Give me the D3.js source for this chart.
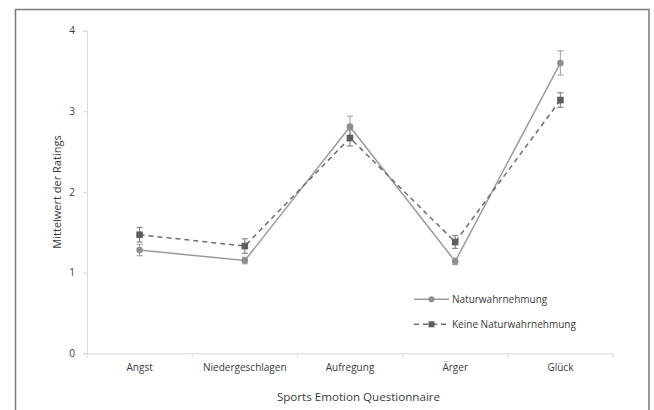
<!DOCTYPE html>
<html><head><meta charset="utf-8">
<script src="https://cdn.jsdelivr.net/npm/d3@7"></script>
<style>html,body{margin:0;padding:0;background:#fff;}svg{display:block;}</style>
</head><body>
<svg id="chart" width="654" height="410"></svg>
<script>
const categories = ["Angst", "Niedergeschlagen", "Aufregung", "Ärger", "Glück"];
const naturMean = [1.28, 1.15, 2.81, 1.14, 3.60];
const naturErr = [0.07, 0.04, 0.13, 0.04, 0.15];
const keineMean = [1.47, 1.33, 2.67, 1.38, 3.14];
const keineErr = [0.09, 0.09, 0.10, 0.08, 0.09];
const yTicks = [0, 1, 2, 3, 4];
const seriesNames = ["Naturwahrnehmung", "Keine Naturwahrnehmung"];

const svg = d3.select("#chart");
const font = "'Open Sans', sans-serif";
const textCol = "#3a3a3a";

// frame
svg.append("rect").attr("x", 15.5).attr("y", 9.5).attr("width", 633.5).attr("height", 420)
  .attr("fill", "none").attr("stroke", "#7a7a7a").attr("stroke-width", 1.5);

const x = d3.scaleBand().domain(categories).range([87, 613]).paddingInner(0).paddingOuter(0);
const y = d3.scaleLinear().domain([0, 4]).range([353.3, 30.7]);

// y axis
const yAxis = svg.append("g").attr("transform", "translate(87,0)")
  .call(d3.axisLeft(y).tickValues(yTicks).tickSize(4).tickPadding(8).tickFormat(d3.format("d")));
yAxis.select(".domain").attr("stroke", "#d9d9d9");
yAxis.selectAll(".tick line").attr("stroke", "#d9d9d9");
yAxis.selectAll("text").attr("font-family", font).attr("font-size", 10).attr("fill", textCol);

// x axis
const xAxis = svg.append("g").attr("transform", "translate(0,353.3)")
  .call(d3.axisBottom(x).tickSize(0).tickPadding(11));
xAxis.select(".domain").attr("stroke", "#d9d9d9");
xAxis.selectAll("text").attr("font-family", font).attr("font-size", 10).attr("fill", textCol);
// category separator ticks
const bounds = categories.map(c => x(c)).concat([x.range()[1]]);
svg.append("g").selectAll("line").data(bounds).join("line")
  .attr("x1", d => d).attr("x2", d => d).attr("y1", 353.3).attr("y2", 357.5)
  .attr("stroke", "#d9d9d9");

const cx = c => x(c) + x.bandwidth() / 2;

const line = d3.line().x(d => cx(d.c)).y(d => y(d.v));
const natur = categories.map((c, i) => ({c, v: naturMean[i], e: naturErr[i]}));
const keine = categories.map((c, i) => ({c, v: keineMean[i], e: keineErr[i]}));

const colN = "#9a9a9a", colNm = "#8e8e8e";
const colK = "#6e6e6e", colKm = "#5e5e5e";

svg.append("path").datum(natur).attr("d", line).attr("fill", "none")
  .attr("stroke", colN).attr("stroke-width", 1.5);
svg.append("path").datum(keine).attr("d", line).attr("fill", "none")
  .attr("stroke", colK).attr("stroke-width", 1.5).attr("stroke-dasharray", "5,4");

function errBars(data, col) {
  const g = svg.append("g").attr("stroke", col).attr("stroke-width", 1.2);
  data.forEach(d => {
    const X = cx(d.c);
    g.append("line").attr("x1", X).attr("x2", X).attr("y1", y(d.v + d.e)).attr("y2", y(d.v - d.e));
    g.append("line").attr("x1", X - 3).attr("x2", X + 3).attr("y1", y(d.v + d.e)).attr("y2", y(d.v + d.e));
    g.append("line").attr("x1", X - 3).attr("x2", X + 3).attr("y1", y(d.v - d.e)).attr("y2", y(d.v - d.e));
  });
}
errBars(natur, "#a8a8a8");
errBars(keine, "#8a8a8a");

svg.append("g").selectAll("circle").data(natur).join("circle")
  .attr("cx", d => cx(d.c)).attr("cy", d => y(d.v)).attr("r", 3.3).attr("fill", colNm);
svg.append("g").selectAll("rect").data(keine).join("rect")
  .attr("x", d => cx(d.c) - 3.3).attr("y", d => y(d.v) - 3.3).attr("width", 6.6).attr("height", 6.6)
  .attr("fill", colKm);

// legend
const lg = svg.append("g");
const ly = [299.3, 324.3];
lg.append("line").attr("x1", 414).attr("x2", 449).attr("y1", ly[0]).attr("y2", ly[0])
  .attr("stroke", colN).attr("stroke-width", 1.5);
lg.append("circle").attr("cx", 431.5).attr("cy", ly[0]).attr("r", 3).attr("fill", colNm);
lg.append("line").attr("x1", 414).attr("x2", 449).attr("y1", ly[1]).attr("y2", ly[1])
  .attr("stroke", colK).attr("stroke-width", 1.5).attr("stroke-dasharray", "5,4");
lg.append("rect").attr("x", 428.5).attr("y", ly[1] - 3).attr("width", 6).attr("height", 6).attr("fill", colKm);
lg.selectAll("text").data(seriesNames).join("text")
  .attr("x", 452).attr("y", (d, i) => ly[i]).attr("dy", "0.35em")
  .attr("font-family", font).attr("font-size", 10).attr("fill", textCol).text(d => d);

// axis titles
svg.append("text").attr("transform", "translate(57,192) rotate(-90)").attr("text-anchor", "middle")
  .attr("dy", "0.35em").attr("font-family", font).attr("font-size", 11).attr("fill", textCol)
  .text("Mittelwert der Ratings");
svg.append("text").attr("x", 358.5).attr("y", 396.7).attr("text-anchor", "middle").attr("dy", "0.35em")
  .attr("font-family", font).attr("font-size", 11.6).attr("fill", textCol)
  .text("Sports Emotion Questionnaire");
</script>
</body></html>
